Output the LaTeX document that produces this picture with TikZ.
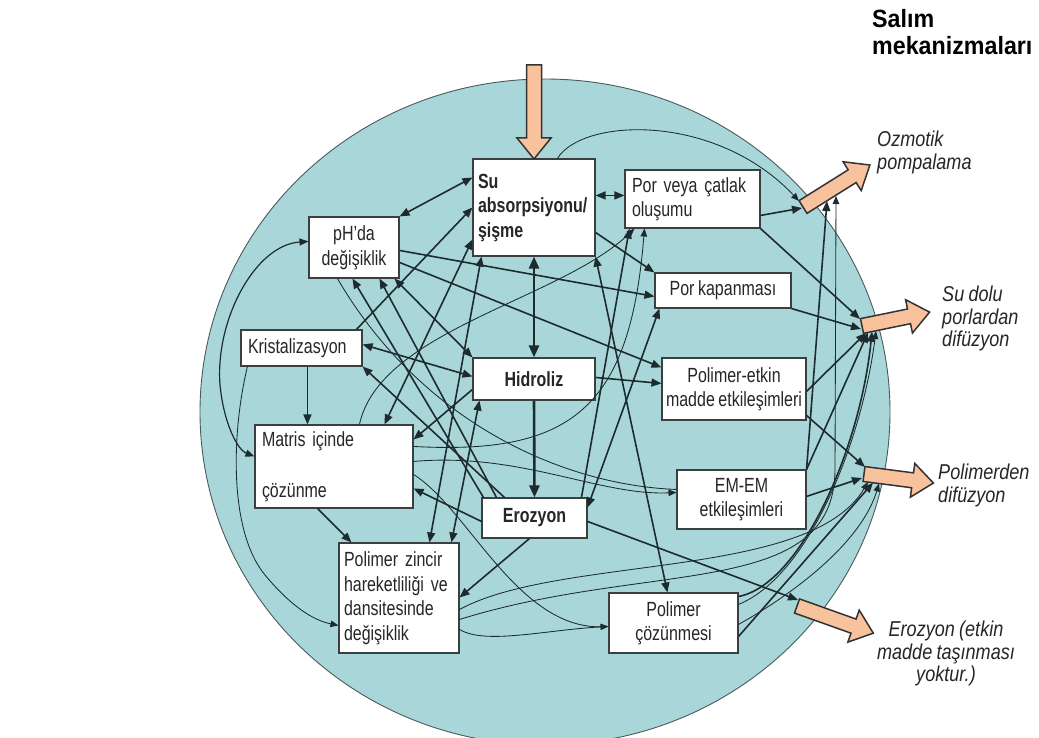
\documentclass[tikz,border=0pt]{standalone}
\usepackage{fontspec}
\setmainfont{Liberation Sans}
\newfontfamily\boxfont{Liberation Sans}[FakeStretch=0.78, WordSpace=0.8]
\newfontfamily\labfont{Liberation Sans}[FakeStretch=0.84, WordSpace=0.85]
\newfontfamily\ttlfont{Liberation Sans}[FakeStretch=0.93]
\usetikzlibrary{arrows.meta,calc}
\definecolor{circfill}{HTML}{A9D7D9}
\definecolor{circline}{HTML}{4A5A5C}
\definecolor{peach}{HTML}{F7C29C}
\definecolor{inkc}{HTML}{1E2B2E}
\definecolor{boxline}{HTML}{3A3F40}
\definecolor{txt}{HTML}{262626}
\newcommand\barrow[4]{\draw[barrowsty, shift={(#1,#2)}, rotate=#3] (0,7.5) -- ({#4-21},7.5) -- ({#4-21},17) -- (#4,0) -- ({#4-21},-17) -- ({#4-21},-7.5) -- (0,-7.5) -- cycle;}
\begin{document}
\begin{tikzpicture}[x=1pt,y=-1pt,
  box/.style={draw=boxline, fill=white, line width=1.1pt, inner sep=0pt, text=txt,
    font=\boxfont\fontsize{20.5}{24.5}\selectfont},
  boxb/.style={box, font=\boxfont\bfseries\fontsize{20.5}{24.5}\selectfont},
  thk/.style={draw=inkc, line width=1.6pt, >={Triangle[length=10pt,width=8pt]}},
  hvy/.style={draw=inkc, line width=2.6pt, >={Triangle[length=12pt,width=10pt]}},
  midl/.style={draw=inkc, line width=1.2pt, >={Triangle[length=9pt,width=7pt]}},
  thn/.style={draw=inkc, line width=0.85pt, >={Triangle[length=8pt,width=6.5pt]}},
  barrowsty/.style={draw=black!80, fill=peach, line width=1.5pt, line join=miter},
  lab/.style={inner sep=0pt, align=left, text=txt, font=\labfont\itshape\fontsize{21.5}{22.5}\selectfont},
  ttl/.style={inner sep=0pt, align=left, text=black, font=\ttlfont\bfseries\fontsize{25}{27}\selectfont}]
\useasboundingbox (0,0) rectangle (1039,738);
\fill[white] (0,0) rectangle (1039,738);
% reservoir
\draw[fill=circfill, draw=circline, line width=0.9pt] (545,412) ellipse [x radius=345pt, y radius=333pt];
% boxes
\node[boxb, minimum width=122pt, minimum height=97pt, text width=112pt, align=left] (su) at (534,207.5) {Su\\absorpsiyonu/\\şişme};
\node[box, minimum width=90pt, minimum height=61pt, align=center] (ph) at (354,247.5) {pH’da\\değişiklik};
\node[box, minimum width=121pt, minimum height=36pt, text width=107pt, align=left] (kri) at (301.5,348) {Kristalizasyon};
\node[boxb, minimum width=122pt, minimum height=42pt, align=center] (hid) at (534,379) {Hidroliz};
\node[box, minimum width=158pt, minimum height=83pt, text width=144pt, align=left] (mat) at (334,466.5) {Matris içinde\\[26pt]çözünme};
\node[boxb, minimum width=105pt, minimum height=40pt, align=center] (ero) at (534.5,518) {Erozyon};
\node[box, minimum width=120pt, minimum height=110pt, text width=110pt, align=left] (pzn) at (399,598) {Polimer zincir\\hareketliliği ve\\dansitesinde\\değişiklik};
\node[box, minimum width=135pt, minimum height=58pt, text width=121pt, align=left] (por) at (692.5,199) {Por veya çatlak\\oluşumu};
\node[box, minimum width=136pt, minimum height=35pt, align=center] (pkap) at (723,290.5) {Por kapanması};
\node[box, minimum width=144pt, minimum height=62pt, align=center] (pet) at (734,389) {Polimer-etkin\\madde etkileşimleri};
\node[box, minimum width=129pt, minimum height=59pt, align=center] (emem) at (741.5,499.5) {EM-EM\\etkileşimleri};
\node[box, minimum width=129pt, minimum height=60pt, align=center] (pcoz) at (673.5,623) {Polimer\\çözünmesi};
% tails of the release arrows
\coordinate (topin) at (534,65);
\coordinate (ozm) at (803,207);
\coordinate (sud) at (862,326);
\coordinate (pol) at (864,474);
\coordinate (erz) at (797,606);
% thick connectors
\draw[thk,<->] ([yshift=-19pt]su.north west) -- (ph.north east);
\draw[thk,<->] ([yshift=-37pt]su.north east) -- ([yshift=-26pt]por.north west);
\draw[hvy,<->] (su.south) -- (hid.north);
\draw[hvy,->] (hid.south) -- (ero.north);
\draw[thk,->] ([xshift=67pt]kri.south west) -- ([xshift=53pt]mat.north west);
\draw[thk,<->] ([yshift=-15pt]kri.north east) -- ([yshift=-19pt]hid.north west);
\draw[thk,->] ([xshift=63pt]mat.south west) -- ([xshift=13pt]pzn.north west);
\draw[thk,->] ([yshift=-24pt]ero.north west) -- ([yshift=-64pt]mat.north east);
\draw[thk,->] ([xshift=48pt]ero.south west) -- ([yshift=-55pt]pzn.north east);
\draw[thk,->] ([yshift=-24pt]ero.north east) -- ([xshift=1pt,yshift=6pt]erz);
\draw[thk,->] ([yshift=-20pt]hid.north east) -- ([yshift=-26pt]pet.north west);
\draw[thk,->] ([yshift=-46pt]por.north east) -- ([xshift=-1pt,yshift=-1pt]ozm);
\draw[thk,->] (por.south east) -- ([xshift=-2pt,yshift=7pt]sud);
\draw[thk,->] (pkap.south east) -- ([xshift=-1pt,yshift=-3pt]sud);
\draw[thk,->] ([yshift=-34pt]pet.north east) -- ([xshift=4pt,yshift=-7pt]sud);
\draw[thk,->] ([yshift=-58pt]pet.north east) -- ([xshift=1pt,yshift=7pt]pol);
\draw[thk,->] ([yshift=-27pt]emem.north east) -- ([xshift=-2pt,yshift=-4pt]pol);
\draw[thk,->] ([yshift=-34pt]ph.north east) -- ([yshift=-24pt]pkap.north west);
\draw[thk,->] ([yshift=-46pt]ph.north east) -- ([yshift=-10pt]pet.north west);
\draw[thk,->] ([yshift=-74pt]su.north east) -- (pkap.north west);
\draw[thk,->] ([xshift=116pt]kri.north west) -- ([yshift=-49pt]su.north west);
\draw[thk,<->] ([xshift=130pt]mat.north west) -- ([yshift=-81pt]su.north west);
\draw[thk,<->] ([xshift=9pt]su.south west) -- ([xshift=91pt]pzn.north west);
\draw[thk,<->] ([xshift=7pt]hid.south west) -- ([xshift=113pt]pzn.north west);
\draw[thk,->] ([yshift=-32pt]hid.north west) -- ([yshift=-15pt]mat.north east);
\draw[thk,->] ([xshift=23pt]ero.north west) -- (kri.south east);
\draw[thk,->] ([xshift=15pt]ero.north west) -- ([xshift=71pt]ph.south west);
\draw[thk,<->] ([xshift=86pt]ph.south west) -- (hid.north west);
\draw[thk,->] ([xshift=2pt]ero.north west) -- ([xshift=44pt]ph.south west);
\draw[thk,->] ([xshift=100pt]ero.north west) -- ([xshift=5pt]por.south west);
\draw[thk,<->] ([yshift=-10pt]ero.north east) -- ([xshift=5pt]pkap.south west);
\draw[thk,<->] (su.south east) -- ([xshift=59pt]pcoz.north west);
\draw[thk,->] (emem.north east) -- ([xshift=24pt,yshift=6pt]ozm);
\draw[thk,->] (emem.north east) -- ([xshift=6pt,yshift=-6.5pt]sud);
\draw[thk,->] ([yshift=-4pt]pcoz.north east) .. controls (800,585) and (860,450) .. ([xshift=10pt,yshift=-5.7pt]sud);
\draw[thk,->] ([yshift=-44pt]pcoz.north east) -- ([xshift=9pt,yshift=-8.7pt]pol);
% thin, curved connectors
\draw[midl,<->] ([yshift=-25pt]ph.north west) .. controls (255,245) and (215,320) .. (220,385) .. controls (224,425) and (238,450) .. ([yshift=-32pt]mat.north west);
\draw[thn,->] ([xshift=7pt]kri.south west) .. controls (232,430) and (228,530) .. (265,575) .. controls (290,605) and (312,620) .. ([yshift=-83pt]pzn.north west);
\draw[thn,->] ([xshift=85pt]su.north west) .. controls (582,118) and (715,112) .. ([xshift=-4pt,yshift=6pt]ozm);
\draw[thn,->] ([xshift=105pt]mat.north west) .. controls (380,330) and (560,300) .. ([xshift=10pt]por.south west);
\draw[thn,->] ([yshift=-22pt]mat.north east) .. controls (570,455) and (630,410) .. ([xshift=20pt]por.south west);
\draw[thn,->] ([yshift=-37pt]mat.north east) .. controls (520,452) and (600,496) .. ([yshift=-23pt]emem.north west);
\draw[thn,->] ([yshift=-87pt]pzn.north east) .. controls (485,645) and (545,630) .. ([yshift=-34pt]pcoz.north west);
\draw[thn] ([xshift=29pt]ph.south west) .. controls (420,420) and (560,485) .. ([yshift=-20pt]emem.north west);
\draw[thn] ([yshift=-50pt]mat.north east) .. controls (470,510) and (520,635) .. ([yshift=-34pt]pcoz.north west);
\draw[thn,->] ([yshift=-67pt]pzn.north east) .. controls (560,555) and (810,580) .. ([xshift=4pt,yshift=-8pt]pol);
\draw[thn,->] ([yshift=-77pt]pzn.north east) .. controls (650,560) and (834,600) .. (835,470) -- ([xshift=33pt,yshift=11pt]ozm);
\draw[thn,->] ([yshift=-12pt]pcoz.north east) .. controls (810,575) and (862,440) .. ([xshift=14pt,yshift=-5pt]sud);
\draw[thn,->] ([yshift=-32pt]pcoz.north east) .. controls (800,590) and (862,540) .. ([xshift=15pt,yshift=-9.5pt]pol);
% block arrows
\barrow{534}{65}{-90}{94}
\barrow{803}{207}{32.1}{79}
\barrow{862}{326}{11.6}{69}
\barrow{864}{474}{-7.4}{70}
\barrow{797}{606}{-19.6}{81}
% labels
\node[ttl, anchor=north west] (ttlT) at (872,9) {Salım\\mekanizmaları};
\node[lab, anchor=north west] (ozmT) at (877,131) {Ozmotik\\pompalama};
\node[lab, anchor=north west] (sudT) at (942,286) {Su dolu\\porlardan\\difüzyon};
\node[lab, anchor=north west] (polT) at (938,464) {Polimerden\\difüzyon};
\node[lab, anchor=north, align=center] (erzT) at (946,621) {Erozyon (etkin\\madde taşınması\\yoktur.)};
\end{tikzpicture}
\end{document}
